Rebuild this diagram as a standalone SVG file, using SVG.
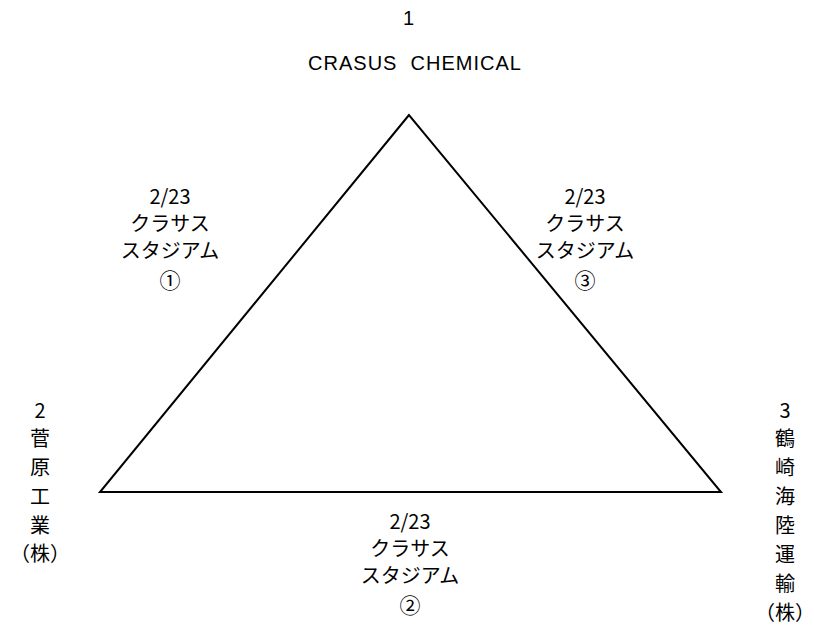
<svg xmlns="http://www.w3.org/2000/svg" width="814" height="639" viewBox="0 0 814 639">
<style>
text{font-family:"Noto Sans CJK JP","Liberation Sans",sans-serif;font-size:20px;fill:#000;text-anchor:middle}
.e{font-family:"Liberation Sans",sans-serif;font-size:20px;letter-spacing:1px}
.c{font-size:21px}
</style>
<rect width="814" height="639" fill="#fff"/>
<g id="connectors">
<polygon points="409,115 100,492 721,492" fill="none" stroke="#000" stroke-width="2"/>
</g>
<g id="node1">
<text class="e" x="409" y="25">1</text>
<text class="e" x="415" y="70" xml:space="preserve">CRASUS  CHEMICAL</text>
</g>
<g id="node2">
<text x="40" y="418">2</text>
<text x="40" y="446">菅</text>
<text x="40" y="475">原</text>
<text x="40" y="504">工</text>
<text x="40" y="533">業</text>
<text x="40" y="561">（株）</text>
</g>
<g id="node3">
<text x="785" y="418">3</text>
<text x="785" y="446">鶴</text>
<text x="785" y="475">崎</text>
<text x="785" y="504">海</text>
<text x="785" y="533">陸</text>
<text x="785" y="562">運</text>
<text x="785" y="591">輸</text>
<text x="785" y="620">（株）</text>
</g>
<g id="label1">
<text x="170" y="204">2/23</text>
<text x="170" y="231">クラサス</text>
<text x="170" y="258">スタジアム</text>
<text class="c" x="170" y="288">①</text>
</g>
<g id="label3">
<text x="585" y="204">2/23</text>
<text x="585" y="231">クラサス</text>
<text x="585" y="258">スタジアム</text>
<text class="c" x="585" y="288">③</text>
</g>
<g id="label2">
<text x="410" y="529">2/23</text>
<text x="410" y="556">クラサス</text>
<text x="410" y="583">スタジアム</text>
<text class="c" x="410" y="613">②</text>
</g>
</svg>
